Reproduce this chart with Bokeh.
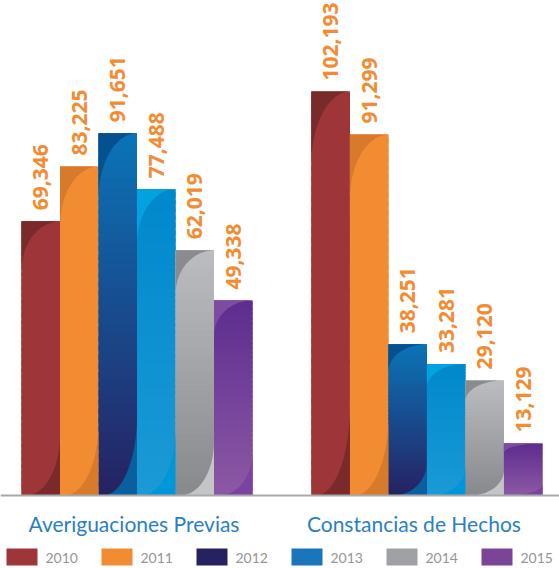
import numpy as np
from bokeh.plotting import figure
from bokeh.models import ColumnDataSource, Range1d, Span
from bokeh.embed import file_html
from bokeh.resources import INLINE
from bokeh.core.properties import value

# ---- data ----
categories = ["Averiguaciones Previas", "Constancias de Hechos"]
years = ["2010", "2011", "2012", "2013", "2014", "2015"]
averiguaciones = [69346, 83225, 91651, 77488, 62019, 49338]
constancias = [102193, 91299, 38251, 33281, 29120, 13129]

# ---- styles ----
main_top = ["#9e3639", "#f28c33", "#0a74b8", "#0088cc", "#bcbdc0", "#5c2d8f"]
main_bot = ["#9e3639", "#f28c33", "#262262", "#1b9ad6", "#88898c", "#8d59a5"]
top_shade = ["#7b2a2b", "#d77a2c", "#05508f", "#00a3e0", "#8a8b8e", "#7d4b9f"]
bot_shade = ["#7b2a2b", "#d77a2c", "#0a5f9e", "#0097da", "#c4c5c7", "#7a43a0"]
legend_col = ["#9e3639", "#f28c33", "#262262", "#1b75bb", "#9fa1a4", "#7a4499"]

W, H = 559, 568
BAR_PX = 38.5
BASE_FY = 495
U = 102193 / 404.0  # data units per vertical pixel
x_start = -0.5 - 21 / BAR_PX
x_end = x_start + W / BAR_PX
y_start = -(H - BASE_FY) * U
y_end = BASE_FY * U
GROUP_STEP = 7.53
NB = 40  # gradient bands per bar


def fx(px):
    return x_start + px / BAR_PX


def fy(py):
    return (BASE_FY - py) * U


def hex2rgb(h):
    h = h.lstrip("#")
    return np.array([int(h[k:k + 2], 16) for k in (0, 2, 4)], dtype=float)


def mix(c1, c2, f):
    c = hex2rgb(c1) * (1 - f) + hex2rgb(c2) * f
    return "#%02x%02x%02x" % tuple(int(round(v)) for v in c)


p = figure(width=W, height=H, output_backend="svg", toolbar_location=None,
           x_range=Range1d(x_start, x_end), y_range=Range1d(y_start, y_end),
           x_axis_type=None, y_axis_type=None, min_border=0,
           outline_line_color=None, background_fill_color="white")
p.grid.visible = False

series = [averiguaciones, constancias]
base = dict(l=[], r=[], t=[], c=[])
band = dict(l=[], r=[], b=[], t=[], c=[])
shade_xs, shade_ys, shade_c = [], [], []
lab_x, lab_y, lab_t = [], [], []
tt = np.linspace(0, np.pi / 2, 24)
for g, vals in enumerate(series):
    for i, v in enumerate(vals):
        cx = g * GROUP_STEP + i
        L, R, T = cx - 0.5, cx + 0.5, float(v)
        w = R - L
        a = 0.18 * T
        b = 0.22 * T
        c = 0.12 * w
        base["l"].append(L)
        base["r"].append(R)
        base["t"].append(T)
        base["c"].append(mix(main_top[i], main_bot[i], 0.5))
        edges = np.linspace(0, T, NB + 1)
        step = T / NB
        for k in range(NB):
            band["l"].append(L)
            band["r"].append(R)
            band["b"].append(edges[k])
            band["t"].append(min(T, edges[k + 1] + 0.6 * step))
            band["c"].append(mix(main_top[i], main_bot[i], 1 - (k + 0.5) / NB))
        # top-left shade
        shade_xs.append([L] + list(R - w * np.cos(tt)))
        shade_ys.append([T] + list(T - a + a * np.sin(tt)))
        shade_c.append(top_shade[i])
        # bottom-right shade
        shade_xs.append(list(L + c + (w - c) * np.cos(tt)) + [R])
        shade_ys.append(list(b - b * np.sin(tt)) + [0])
        shade_c.append(bot_shade[i])
        lab_x.append(cx)
        lab_y.append(T)
        lab_t.append(f"{v:,}")

p.quad(left="l", right="r", bottom=0, top="t", fill_color="c", line_color=None,
       source=ColumnDataSource(base))
p.quad(left="l", right="r", bottom="b", top="t", fill_color="c", line_color=None,
       source=ColumnDataSource(band))
p.patches(xs="xs", ys="ys", fill_color="c", line_color=None,
          source=ColumnDataSource(dict(xs=shade_xs, ys=shade_ys, c=shade_c)))

# baseline
p.add_layout(Span(location=0, dimension="width", line_color="#a7a9ac", line_width=2))

# value labels (rotated)
p.text(x="x", y="y", text="t", source=ColumnDataSource(dict(x=lab_x, y=lab_y, t=lab_t)),
       angle=np.pi / 2, text_align="left", text_baseline="middle",
       text_font=value("Open Sans"), text_font_style="bold", text_font_size="21px",
       text_color="#f28c33", y_offset=-11)

# category labels
cat_x = [g * GROUP_STEP + 2.5 for g in range(len(categories))]
p.text(x="x", y="y", text="t", x_offset="xo",
       source=ColumnDataSource(dict(x=cat_x, y=[fy(523)] * len(categories), t=categories, xo=[-3, -13])),
       text_align="center", text_baseline="alphabetic",
       text_font=value("Lato"), text_font_size="21px", text_color="#2a7fc4")

# legend
leg_px = [6 + 95 * i for i in range(len(years))]
p.quad(left=[fx(px) for px in leg_px], right=[fx(px + 31) for px in leg_px],
       top=[fy(548)] * len(years), bottom=[fy(565)] * len(years),
       fill_color=legend_col, line_color=None)
p.text(x=[fx(px + 39) for px in leg_px], y=[fy(557)] * len(years), text=years,
       text_align="left", text_baseline="middle", text_font=value("Lato"),
       text_font_size="14px", text_color="#939598")

open("out.html", "w").write(file_html(p, INLINE))
